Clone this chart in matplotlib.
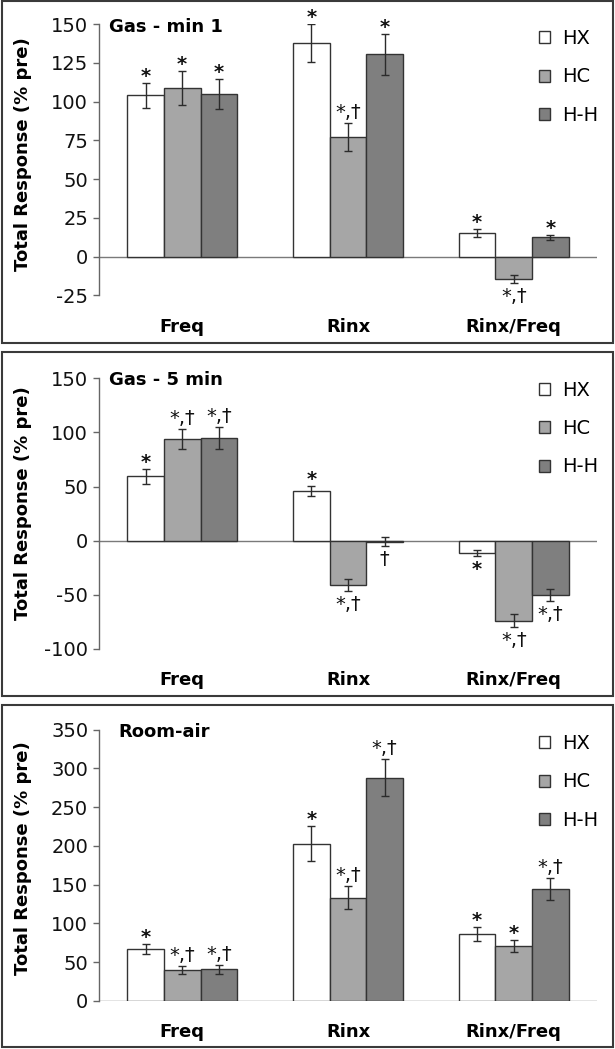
import matplotlib
matplotlib.use('Agg')
import matplotlib.pyplot as plt
from matplotlib.patches import Rectangle, Patch
import numpy as np

plt.rcParams['font.family'] = ['DejaVu Sans']
plt.rcParams['axes.unicode_minus'] = False

categories = ['Freq', 'Rinx', 'Rinx/Freq']
groups = ['HX', 'HC', 'H-H']
colors = ['#ffffff', '#a6a6a6', '#7f7f7f']

# Gas - min 1
p1_hx = [104, 138, 15.3]
p1_hc = [109, 77, -14.4]
p1_hh = [105, 130.5, 12.4]
p1_hx_err = [8, 12.2, 2.4]
p1_hc_err = [11, 9, 2.6]
p1_hh_err = [9.8, 13.3, 1.7]
p1_hx_lab = ['*', '*', '*']
p1_hc_lab = ['*', '*,\u2020', '*,\u2020']
p1_hh_lab = ['*', '*', '*']

# Gas - 5 min
p2_hx = [59.4, 46, -11.5]
p2_hc = [94, -41, -74]
p2_hh = [94.6, -1, -50]
p2_hx_err = [7, 4.5, 2.5]
p2_hc_err = [9.3, 5.5, 6]
p2_hh_err = [10, 4, 5.5]
p2_hx_lab = ['*', '*', '*']
p2_hc_lab = ['*,\u2020', '*,\u2020', '*,\u2020']
p2_hh_lab = ['*,\u2020', '\u2020', '*,\u2020']

# Room-air
p3_hx = [67, 203, 86]
p3_hc = [40, 133, 71]
p3_hh = [41, 288, 144]
p3_hx_err = [6, 22, 9]
p3_hc_err = [5.5, 15, 7.5]
p3_hh_err = [6, 24, 14]
p3_hx_lab = ['*', '*', '*']
p3_hc_lab = ['*,\u2020', '*,\u2020', '*']
p3_hh_lab = ['*,\u2020', '*,\u2020', '*,\u2020']

W, H = 615, 1049
fig = plt.figure(figsize=(W / 100, H / 100), dpi=100)


def fx(x):
    return x / W


def fy(y):
    return 1 - y / H


panels = [
    dict(title='Gas - min 1', vals=[p1_hx, p1_hc, p1_hh], errs=[p1_hx_err, p1_hc_err, p1_hh_err],
         labs=[p1_hx_lab, p1_hc_lab, p1_hh_lab], ylim=(-25, 150), step=25,
         box=(2, 1, 613, 343), ax_tb=(24, 295.3), title_xy=(109, 32), ylab_y=154.5, leg_y=36.7),
    dict(title='Gas - 5 min', vals=[p2_hx, p2_hc, p2_hh], errs=[p2_hx_err, p2_hc_err, p2_hh_err],
         labs=[p2_hx_lab, p2_hc_lab, p2_hh_lab], ylim=(-100, 150), step=50,
         box=(2, 352, 613, 696), ax_tb=(378.3, 649), title_xy=(109, 385), ylab_y=503.5, leg_y=388.3),
    dict(title='Room-air', vals=[p3_hx, p3_hc, p3_hh], errs=[p3_hx_err, p3_hc_err, p3_hh_err],
         labs=[p3_hx_lab, p3_hc_lab, p3_hh_lab], ylim=(0, 350), step=50,
         box=(2, 705, 613, 1047), ax_tb=(729.5, 1001), title_xy=(118, 737), ylab_y=858, leg_y=741.7),
]

ax_left, ax_right = 99.3, 596.7
width = 0.221
x = np.arange(len(categories))

for p in panels:
    x0, y0, x1, y1 = p['box']
    fig.patches.append(Rectangle((fx(x0), fy(y1)), fx(x1) - fx(x0), fy(y0) - fy(y1),
                                 transform=fig.transFigure, fill=False,
                                 edgecolor='#3a3a3a', linewidth=1.5))
    top, bottom = p['ax_tb']
    ax = fig.add_axes([fx(ax_left), fy(bottom), fx(ax_right) - fx(ax_left), fy(top) - fy(bottom)])
    ax.set_facecolor('none')

    for i, (vals, errs, labs) in enumerate(zip(p['vals'], p['errs'], p['labs'])):
        xs = x + (i - 1) * width
        ax.bar(xs, vals, width, color=colors[i], edgecolor='#333333', linewidth=1, zorder=2)
        ax.errorbar(xs, vals, yerr=errs, fmt='none', ecolor='#2b2b2b', elinewidth=1,
                    capsize=3, capthick=1, zorder=3)
        for xi, v, e, t in zip(xs, vals, errs, labs):
            weight = 'bold' if t == '*' else 'normal'
            if v >= 0:
                dy = 1 if t == '*' else 5
                ax.annotate(t, (xi, v + e), xytext=(0, dy), textcoords='offset pixels',
                            ha='center', va='baseline', fontsize=14, fontweight=weight,
                            color='#111111')
            else:
                ax.annotate(t, (xi, v - e), xytext=(0, -4), textcoords='offset pixels',
                            ha='center', va='top', fontsize=14, fontweight=weight,
                            color='#111111')

    ax.axhline(0, color='#7a7a7a', linewidth=1, zorder=1)
    ax.set_xlim(-0.5, 2.5)
    ax.set_ylim(*p['ylim'])
    ax.set_yticks(np.arange(p['ylim'][0], p['ylim'][1] + 1, p['step']))
    ax.tick_params(axis='y', length=4, width=1, color='#666666', pad=4, labelsize=14,
                   labelcolor='#111111')
    ax.set_xticks(x)
    ax.set_xticklabels(categories, fontsize=13, fontweight='bold')
    ax.tick_params(axis='x', length=0, pad=16)
    for s in ['top', 'right', 'bottom']:
        ax.spines[s].set_visible(False)
    ax.spines['left'].set_color('#666666')
    ax.spines['left'].set_linewidth(1)

    fig.text(fx(p['title_xy'][0]), fy(p['title_xy'][1]), p['title'], fontsize=13,
             fontweight='bold', ha='left', va='baseline')
    fig.text(fx(23.5), fy(p['ylab_y']), 'Total Response (% pre)', rotation=90,
             fontsize=13, fontweight='bold', ha='center', va='center')

    handles = [Patch(facecolor=c, edgecolor='#333333', linewidth=1) for c in colors]
    ax.legend(handles, groups, loc='upper left', bbox_to_anchor=(fx(539), fy(p['leg_y'] - 7.7)),
              bbox_transform=fig.transFigure, frameon=False, fontsize=14,
              handlelength=0.57, handleheight=0.57, handletextpad=0.6,
              labelspacing=1.0, borderpad=0, borderaxespad=0)

fig.savefig('out.png', dpi=100)
